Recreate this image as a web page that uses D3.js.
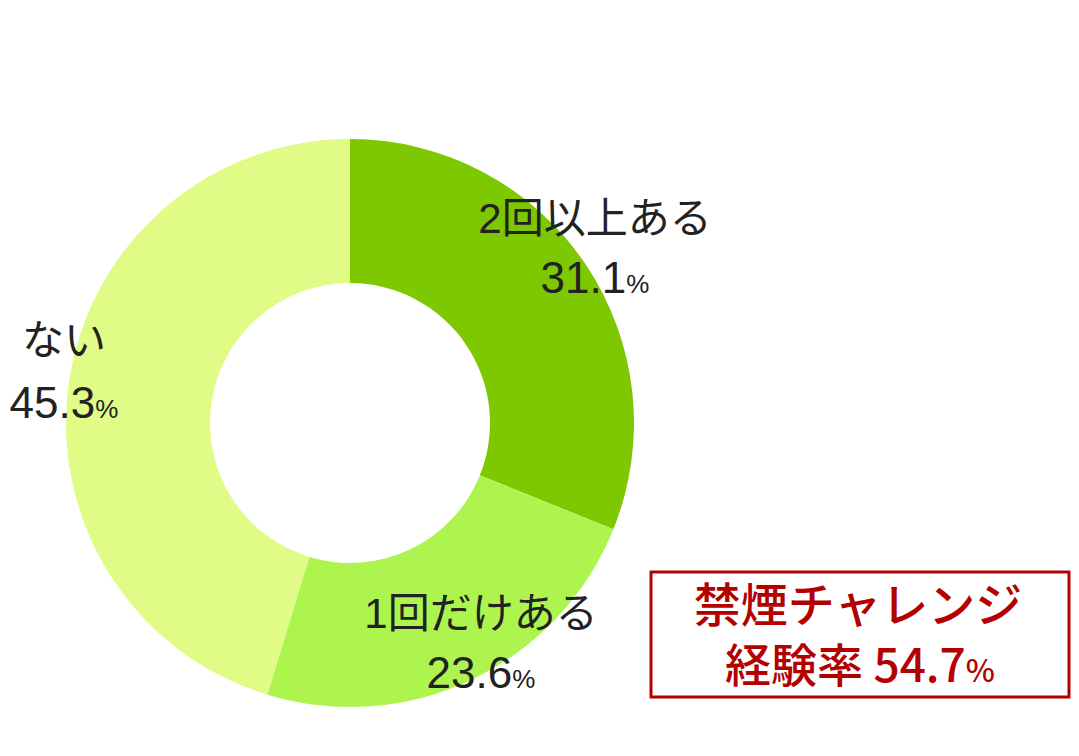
<!DOCTYPE html>
<html><head><meta charset="utf-8">
<script src="https://cdn.jsdelivr.net/npm/d3@7/dist/d3.min.js"></script>
<style>body{margin:0;background:#fff;} svg{display:block;}</style>
</head><body>
<script>
const categories = ["2回以上ある", "1回だけある", "ない"];
const values = [31.1, 23.6, 45.3];
const colors = ["#7dc800", "#adf54e", "#e0fb86"];
const labelPos = [[595, 233, 293], [481, 628, 688], [64, 355, 418]];
const boxLines = ["禁煙チャレンジ", "経験率 54.7"];

const W = 1079, H = 756;
const svg = d3.select("body").append("svg").attr("width", W).attr("height", H);
const cx = 350, cy = 423, R = 284, r = 140;
const pie = d3.pie().sort(null).value(d => d)(values);
const arc = d3.arc().innerRadius(r).outerRadius(R);
const g = svg.append("g").attr("transform", `translate(${cx},${cy})`);
g.selectAll("path").data(pie).enter().append("path")
  .attr("d", arc).attr("fill", (d, i) => colors[i]);

const lf = "'Liberation Sans','Noto Sans CJK JP',sans-serif";
categories.forEach((c, i) => {
  const [x, y1, y2] = labelPos[i];
  svg.append("text").attr("x", x).attr("y", y1).attr("text-anchor", "middle")
    .attr("font-family", lf).attr("font-size", 42).attr("fill", "#222").text(c);
  const t = svg.append("text").attr("x", x).attr("y", y2).attr("text-anchor", "middle")
    .attr("font-family", lf).attr("fill", "#222");
  t.append("tspan").attr("font-size", 44).text(values[i].toFixed(1));
  t.append("tspan").attr("font-size", 26).text("%");
});

svg.append("rect").attr("x", 651).attr("y", 572).attr("width", 418).attr("height", 125)
  .attr("fill", "none").attr("stroke", "#b50000").attr("stroke-width", 3);
const bf = "'Noto Sans CJK JP',sans-serif";
svg.append("text").attr("x", 858).attr("y", 622).attr("text-anchor", "middle")
  .attr("font-family", bf).attr("font-size", 47).attr("font-weight", 500).attr("fill", "#b30000").text(boxLines[0]);
const t2 = svg.append("text").attr("x", 860).attr("y", 682).attr("text-anchor", "middle")
  .attr("font-family", bf).attr("font-weight", 500).attr("fill", "#b30000");
t2.append("tspan").attr("font-size", 46).text(boxLines[1]);
t2.append("tspan").attr("font-size", 31).text("%");
</script>
</body></html>
